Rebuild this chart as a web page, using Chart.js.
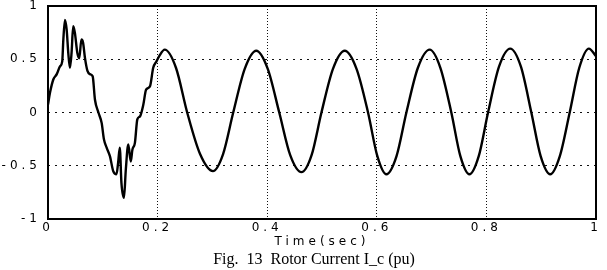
<!DOCTYPE html>
<html>
<head>
<meta charset="utf-8">
<script src="https://cdn.jsdelivr.net/npm/chart.js@4.4.0/dist/chart.umd.min.js"></script>
<style>
    html, body { margin: 0; padding: 0; background: #fff; overflow: hidden; }
    #wrap { position: absolute; left: -11px; top: 0; width: 622px; height: 249px; }
    #caption {
        position: absolute; left: 0; top: 248px; width: 628px; height: 22px;
        text-align: center; font-family: "Liberation Serif", serif; font-size: 16px;
        line-height: 21px; color: #000; white-space: pre;
    }
</style>
</head>
<body>
<div id="wrap"><canvas id="rotorChart"></canvas></div>
<div id="caption">Fig.  13  Rotor Current I_c (pu)</div>
<script>
// valeurs
const timeSec = [
    0, 0.0036, 0.0097, 0.016, 0.022, 0.026, 0.028, 0.031, 0.034, 0.037,
    0.040, 0.043, 0.046, 0.049, 0.0535, 0.057, 0.061, 0.064, 0.0675, 0.072,
    0.0766, 0.0815, 0.0857, 0.092, 0.098, 0.102, 0.107, 0.113, 0.119, 0.125,
    0.128, 0.131, 0.134, 0.1386, 0.142, 0.1465, 0.151, 0.154, 0.1586, 0.163,
    0.168, 0.174, 0.179, 0.186, 0.192, 0.198, 0.203, 0.213, 0.2335, 0.254,
    0.2775, 0.301, 0.3195, 0.338, 0.359, 0.380, 0.401, 0.422, 0.442, 0.4625,
    0.481, 0.499, 0.520, 0.5415, 0.563, 0.584, 0.601, 0.6175, 0.636, 0.654,
    0.675, 0.6965, 0.716, 0.736, 0.7525, 0.769, 0.786, 0.803, 0.823, 0.8435,
    0.863, 0.882, 0.899, 0.9165, 0.934, 0.952, 0.9695, 0.987, 1.0
];
const currentPu = [
    0.075, 0.185, 0.31, 0.36, 0.435, 0.48, 0.685, 0.87, 0.78, 0.56,
    0.42, 0.56, 0.81, 0.75, 0.56, 0.51, 0.685, 0.655, 0.51, 0.39,
    0.36, 0.34, 0.12, 0.0, -0.10, -0.25, -0.33, -0.41, -0.55, -0.58,
    -0.47, -0.33, -0.66, -0.80, -0.535, -0.30, -0.46, -0.35, -0.285, -0.065,
    -0.035, 0.075, 0.215, 0.245, 0.42, 0.48, 0.53, 0.59, 0.42, 0.0,
    -0.39, -0.55, -0.39, 0.0, 0.41, 0.58, 0.41, 0.0, -0.40, -0.56,
    -0.40, 0.0, 0.41, 0.58, 0.41, 0.0, -0.41, -0.58, -0.41, 0.0,
    0.42, 0.59, 0.42, 0.0, -0.41, -0.58, -0.41, 0.0, 0.43, 0.60,
    0.43, 0.0, -0.41, -0.58, -0.41, 0.0, 0.42, 0.60, 0.53
];
const xTicks = [0, 0.2, 0.4, 0.6, 0.8, 1];
const yTicks = [-1, -0.5, 0, 0.5, 1];

const tickFont = { family: "DejaVu Sans", size: 12 };

// cadre noir autour de la zone de tracé + espacement des lettres des axes
const frameBox = {
    id: "frameBox",
    beforeDraw(chart) {
        chart.ctx.letterSpacing = "4px";
    },
    afterDraw(chart) {
        const a = chart.chartArea;
        const ctx = chart.ctx;
        ctx.save();
        ctx.strokeStyle = "#000";
        ctx.lineWidth = 2;
        ctx.strokeRect(a.left, a.top, a.right - a.left, a.bottom - a.top);
        ctx.restore();
    }
};

function innerGrid(ctx) {
    const v = ctx.tick ? ctx.tick.value : null;
    if (v === null) return "rgba(0,0,0,0)";
    return (v === ctx.scale.min || v === ctx.scale.max) ? "rgba(0,0,0,0)" : "#111";
}

new Chart(document.getElementById("rotorChart").getContext("2d"), {
    type: "line",
    data: {
        datasets: [{
            label: "I_c",
            data: timeSec.map((t, i) => ({ x: t, y: currentPu[i] })),
            borderColor: "#000",
            borderWidth: 2.4,
            pointRadius: 0,
            fill: false,
            cubicInterpolationMode: "monotone"
        }]
    },
    options: {
        responsive: true,
        maintainAspectRatio: false,
        animation: false,
        layout: { padding: { top: 6, right: 15, left: 0, bottom: 0 } },
        plugins: {
            legend: { display: false },
            tooltip: { enabled: false }
        },
        scales: {
            x: {
                type: "linear",
                min: 0,
                max: 1,
                afterBuildTicks: (s) => { s.ticks = xTicks.map(v => ({ value: v })); },
                afterFit: (s) => { s.height = 30; s.paddingLeft = 0; s.paddingRight = 0; },
                border: { display: false, dash: [1, 2] },
                grid: { color: innerGrid, lineWidth: 1, drawTicks: false },
                ticks: { color: "#000", font: tickFont, padding: 2, maxRotation: 0,
                         callback: (v) => String(v) },
                title: { display: true, text: "Time(sec)", color: "#000", font: tickFont,
                         padding: { top: 0, bottom: 0 } }
            },
            y: {
                min: -1,
                max: 1,
                afterBuildTicks: (s) => { s.ticks = yTicks.map(v => ({ value: v })); },
                afterFit: (s) => { s.width = 59; s.paddingTop = 0; s.paddingBottom = 0; },
                border: { display: false, dash: [2, 5] },
                grid: { color: innerGrid, lineWidth: 1, drawTicks: false },
                ticks: { color: "#000", font: tickFont, padding: 7,
                         callback: (v) => String(v) }
            }
        }
    },
    plugins: [frameBox]
});
</script>
</body>
</html>
